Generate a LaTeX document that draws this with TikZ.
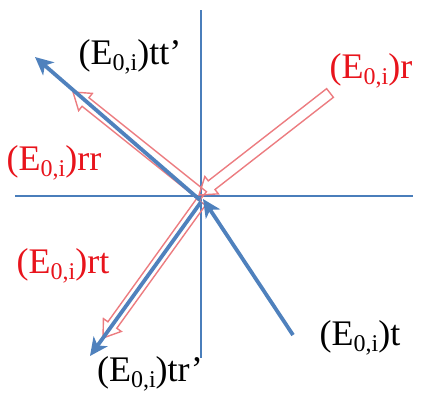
\documentclass[tikz,border=0pt]{standalone}
\usepackage{fontspec}
\setmainfont{Liberation Serif}
\usetikzlibrary{calc,arrows.meta}
\definecolor{axisblue}{HTML}{4A7EBB}
\definecolor{arrblue}{HTML}{4F81BD}
\definecolor{redline}{HTML}{EC7C80}
\definecolor{redtext}{HTML}{E8141C}
\newcommand\Esub{(E{\fontsize{24}{24}\selectfont\raisebox{-6.5pt}{0,i}})}
\newcommand\hollowarrow[2]{%
  \coordinate (hh) at ($(#2)!16pt!(#1)$);
  \draw[redarrow] ($(#1)!5.5pt!90:(#2)$) -- ($(hh)!5.5pt!90:(#2)$) -- ($(hh)!11pt!90:(#2)$) -- (#2)
     -- ($(hh)!11pt!-90:(#2)$) -- ($(hh)!5.5pt!-90:(#2)$) -- ($(#1)!5.5pt!-90:(#2)$) -- cycle;}
\begin{document}
\begin{tikzpicture}[x=1pt,y=-1pt,
  axis/.style={draw=axisblue,line width=1.1pt},
  redarrow/.style={draw=redline,line width=1.4pt,line join=miter},
  bluearrow/.style={draw=arrblue,line width=3.8pt,-{Stealth[length=18pt,width=17pt,inset=5pt]}},
  lbl/.style={font=\fontsize{36}{36}\selectfont,inner sep=0pt},
  redlbl/.style={lbl,text=redtext}]
\useasboundingbox (0,0) rectangle (443,394);
% axes
\coordinate (vT) at (201,10);
\coordinate (vB) at (201,358);
\coordinate (hL) at (15,196);
\coordinate (hR) at (413,196);
\draw[axis] (vT) -- (vB);
\draw[axis] (hL) -- (hR);
% red hollow arrows
\coordinate (rS) at (330,93);
\coordinate (rE) at (199,195);
\coordinate (rrS) at (203,196);
\coordinate (rrE) at (73,92);
\coordinate (rtS) at (201,202);
\coordinate (rtE) at (103,338);
\hollowarrow{rS}{rE}
\hollowarrow{rrS}{rrE}
\hollowarrow{rtS}{rtE}
% blue arrows
\coordinate (tS) at (293,335);
\coordinate (tE) at (203,199);
\coordinate (ttS) at (200,200);
\coordinate (ttE) at (35,57);
\coordinate (trS) at (201,202);
\coordinate (trE) at (90,356);
\draw[bluearrow] (tS) -- (tE);
\draw[bluearrow] (ttS) -- (ttE);
\draw[bluearrow] (trS) -- (trE);
% labels
\node[lbl] (ltt) at (130,57) {\Esub tt’};
\node[redlbl] (lr) at (371,71) {\Esub r};
\node[redlbl] (lrr) at (54,163) {\Esub rr};
\node[redlbl] (lrt) at (63,266) {\Esub rt};
\node[lbl] (lt) at (360,338) {\Esub t};
\node[lbl] (ltr) at (150,374) {\Esub tr’};
\end{tikzpicture}
\end{document}
